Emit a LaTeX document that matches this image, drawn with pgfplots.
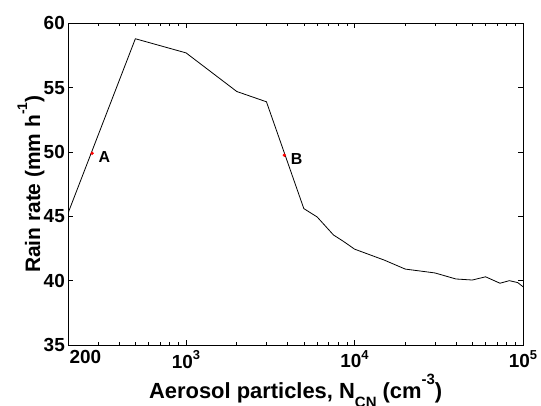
\documentclass[border=0pt]{standalone}
\usepackage{fontspec}
\setmainfont{Liberation Sans}
\usepackage{pgfplots}
\pgfplotsset{compat=1.18}
\begin{document}
\begin{tikzpicture}
\useasboundingbox (0,0) rectangle (541bp,406bp);
\begin{axis}[
  at={(68.3bp,61bp)}, anchor=south west,
  scale only axis, width=454.7bp, height=321.7bp,
  xmode=log, xmin=200, xmax=100000, ymin=35, ymax=60,
  xtick={1000,10000,100000},
  xticklabels={10\raisebox{0.45em}{\fontsize{13}{13}\selectfont 3},10\raisebox{0.45em}{\fontsize{13}{13}\selectfont 4},10\raisebox{0.45em}{\fontsize{13}{13}\selectfont 5}},
  extra x ticks={200}, extra x tick labels={200},
  extra x tick style={major tick length=0pt, xticklabel style={xshift=17bp}},
  minor xtick={300,400,500,600,700,800,900,2000,3000,4000,5000,6000,7000,8000,9000,20000,30000,40000,50000,60000,70000,80000,90000},
  ytick={35,40,45,50,55,60},
  tick align=inside, major tick length=5bp, minor tick length=3bp,
  tick style={black, line width=0.6bp},
  axis line style={line width=0.8bp},
  tick label style={font=\fontsize{19}{19}\selectfont\bfseries},
  xticklabel style={yshift=-2bp},
  /pgf/number format/assume math mode=true,
  xlabel={Aerosol particles, N\raisebox{-0.42em}{\fontsize{15}{15}\selectfont CN} (cm\raisebox{0.62em}{\fontsize{15}{15}\selectfont -3})},
  ylabel={Rain rate (mm h\raisebox{0.62em}{\fontsize{14}{14}\selectfont -1})},
  ylabel style={at={(axis description cs:-0.0622,0.5)}, anchor=base, font=\fontsize{21}{21}\selectfont\bfseries},
  xlabel style={at={(axis description cs:0.5,-0.165)}, anchor=base, font=\fontsize{22}{22}\selectfont\bfseries},
]
\addplot[black, line width=0.8bp] table {
x y
200 45.3
500 58.8
1000 57.7
2000 54.7
3000 53.9
5000 45.6
6000 44.95
7500 43.55
8600 43.05
10000 42.45
15000 41.6
20000 40.9
30000 40.6
40000 40.13
50000 40.05
60000 40.3
73000 39.8
83000 40.0
93000 39.85
100000 39.53
};
\addplot[only marks, mark=*, red, mark size=1.5bp,
  nodes near coords, point meta=explicit symbolic,
  nodes near coords style={black, anchor=west, xshift=3bp, yshift=-4bp, font=\fontsize{16}{16}\selectfont\bfseries}]
  table[meta=label] {
x y label
277 49.9 A
3830 49.75 B
};
\end{axis}
\end{tikzpicture}
\end{document}
